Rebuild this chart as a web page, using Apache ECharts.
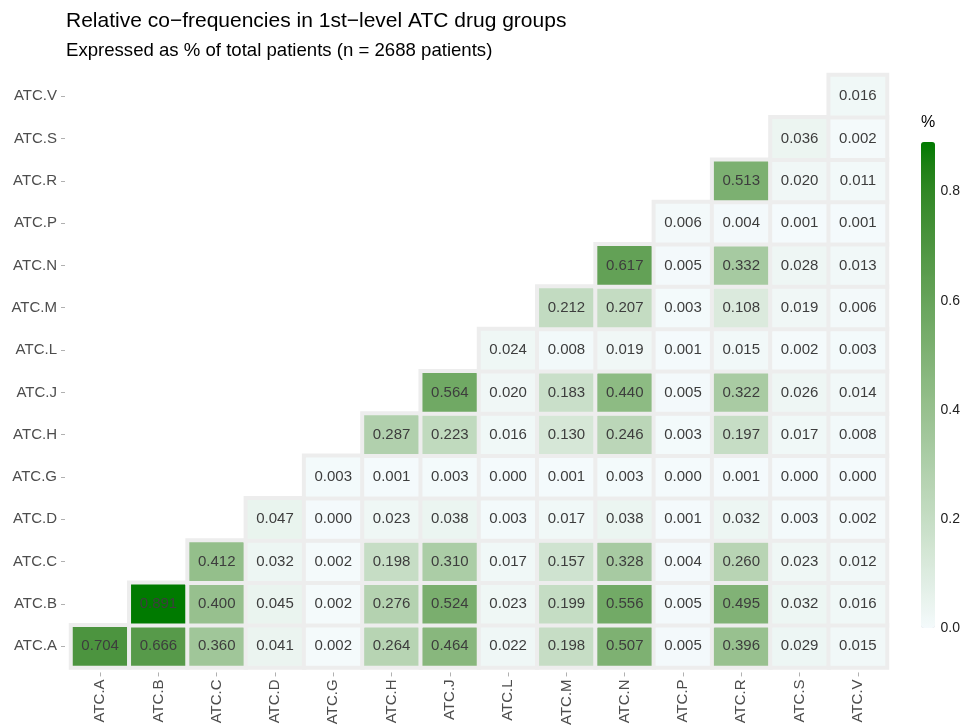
<!DOCTYPE html>
<html>
<head>
<meta charset="utf-8">
<script src="https://cdn.jsdelivr.net/npm/echarts@6/dist/echarts.min.js"></script>
<style>html,body{margin:0;padding:0;background:#fff}#c{width:963px;height:728px}</style>
</head>
<body>
<div id="c"></div>
<script>
// Categories (same order for x and y; y bottom to top)
const categories = ['ATC.A','ATC.B','ATC.C','ATC.D','ATC.G','ATC.H','ATC.J','ATC.L','ATC.M','ATC.N','ATC.P','ATC.R','ATC.S','ATC.V'];
// Each row starts at its diagonal cell and runs to ATC.V
const rowA = [0.704,0.666,0.360,0.041,0.002,0.264,0.464,0.022,0.198,0.507,0.005,0.396,0.029,0.015];
const rowB = [0.891,0.400,0.045,0.002,0.276,0.524,0.023,0.199,0.556,0.005,0.495,0.032,0.016];
const rowC = [0.412,0.032,0.002,0.198,0.310,0.017,0.157,0.328,0.004,0.260,0.023,0.012];
const rowD = [0.047,0.000,0.023,0.038,0.003,0.017,0.038,0.001,0.032,0.003,0.002];
const rowG = [0.003,0.001,0.003,0.000,0.001,0.003,0.000,0.001,0.000,0.000];
const rowH = [0.287,0.223,0.016,0.130,0.246,0.003,0.197,0.017,0.008];
const rowJ = [0.564,0.020,0.183,0.440,0.005,0.322,0.026,0.014];
const rowL = [0.024,0.008,0.019,0.001,0.015,0.002,0.003];
const rowM = [0.212,0.207,0.003,0.108,0.019,0.006];
const rowN = [0.617,0.005,0.332,0.028,0.013];
const rowP = [0.006,0.004,0.001,0.001];
const rowR = [0.513,0.020,0.011];
const rowS = [0.036,0.002];
const rowV = [0.016];
const legendTicks = [0, 0.2, 0.4, 0.6, 0.8];

const rows = [rowA,rowB,rowC,rowD,rowG,rowH,rowJ,rowL,rowM,rowN,rowP,rowR,rowS,rowV];
const data = [];
let maxVal = 0;
rows.forEach((r, i) => r.forEach((v, j) => { data.push([i + j, i, v]); if (v > maxVal) maxVal = v; }));

// Lab interpolation for a ggplot-like gradient
function hex2rgb(h){return [1,3,5].map(i=>parseInt(h.substr(i,2),16)/255);}
function lin(c){return c<=0.04045?c/12.92:Math.pow((c+0.055)/1.055,2.4);}
function unlin(c){return c<=0.0031308?12.92*c:1.055*Math.pow(c,1/2.4)-0.055;}
function toLab(h){const [r,g,b]=hex2rgb(h).map(lin);
 let x=(0.4124*r+0.3576*g+0.1805*b)/0.95047,y=0.2126*r+0.7152*g+0.0722*b,z=(0.0193*r+0.1192*g+0.9505*b)/1.08883;
 const f=t=>t>0.008856?Math.cbrt(t):7.787*t+16/116;x=f(x);y=f(y);z=f(z);
 return [116*y-16,500*(x-y),200*(y-z)];}
function fromLab(L){let y=(L[0]+16)/116,x=L[1]/500+y,z=y-L[2]/200;
 const fi=t=>t*t*t>0.008856?t*t*t:(t-16/116)/7.787;x=fi(x)*0.95047;y=fi(y);z=fi(z)*1.08883;
 const r=3.2406*x-1.5372*y-0.4986*z,g=-0.9689*x+1.8758*y+0.0415*z,b=0.0557*x-0.2040*y+1.0570*z;
 return '#'+[r,g,b].map(c=>{const v=Math.round(Math.max(0,Math.min(1,unlin(c)))*255);return v.toString(16).padStart(2,'0');}).join('');}
const lo=toLab('#f4fafc'),hi=toLab('#007a00');
const stops=[];for(let k=0;k<=20;k++){const t=k/20;stops.push(fromLab([0,1,2].map(i=>lo[i]+(hi[i]-lo[i])*t)));}

const FONT='Liberation Sans, Arial, sans-serif';
const chart = echarts.init(document.getElementById('c'));
chart.setOption({
  backgroundColor:'#fff',
  animation:false,
  textStyle:{fontFamily:FONT},
  title:[
    {text:'Relative co\u2212frequencies in 1st\u2212level ATC drug groups',left:61,top:6,textStyle:{fontSize:21,fontWeight:'normal',color:'#000',fontFamily:FONT}},
    {text:'Expressed as % of total patients (n = 2688 patients)',left:61,top:36,textStyle:{fontSize:18.6,fontWeight:'normal',color:'#000',fontFamily:FONT}},
    {text:'%',left:916,top:110,textStyle:{fontSize:16,fontWeight:'normal',color:'#000',fontFamily:FONT}}
  ],
  grid:[
    {left:71,right:76,top:75,bottom:58,containLabel:false},
    {left:921,top:142,width:14,height:486}
  ],
  xAxis:[
    {type:'category',data:categories,gridIndex:0,offset:5,
     axisLine:{show:false},axisTick:{show:true,length:4,alignWithLabel:true,lineStyle:{color:'#b0b0b0'}},
     axisLabel:{rotate:90,margin:7,fontSize:15,color:'#4d4d4d',fontFamily:FONT,interval:0},splitLine:{show:false}},
    {type:'value',gridIndex:1,show:false,min:0,max:1}
  ],
  yAxis:[
    {type:'category',data:categories,gridIndex:0,offset:6,
     axisLine:{show:false},axisTick:{show:true,length:4,alignWithLabel:true,lineStyle:{color:'#b0b0b0'}},
     axisLabel:{margin:8,fontSize:15,color:'#4d4d4d',fontFamily:FONT,interval:0},splitLine:{show:false}},
    {type:'value',gridIndex:1,min:0,max:maxVal,interval:0.2,position:'right',z:10,
     axisLine:{show:false},splitLine:{show:false},
     axisTick:{show:true,inside:true,length:3,lineStyle:{color:'#ffffff'}},
     axisLabel:{margin:8,fontSize:14,color:'#222',fontFamily:FONT,showMaxLabel:false,
       formatter:v=>legendTicks.some(t=>Math.abs(t-v)<1e-9)?v.toFixed(1):''}}
  ],
  visualMap:{type:'continuous',min:0,max:maxVal,calculable:false,orient:'vertical',
    left:921,top:142,itemWidth:14,itemHeight:486,padding:0,seriesIndex:0,
    inRange:{color:stops},textStyle:{color:'#222'}},
  series:[{
    type:'heatmap',xAxisIndex:0,yAxisIndex:0,data:data,
    itemStyle:{borderColor:'#ededed',borderWidth:4},
    label:{show:true,formatter:p=>p.value[2].toFixed(3),fontSize:15,color:'#3d3d3d',fontFamily:FONT},
    emphasis:{disabled:true}
  }]
});
</script>
</body>
</html>
